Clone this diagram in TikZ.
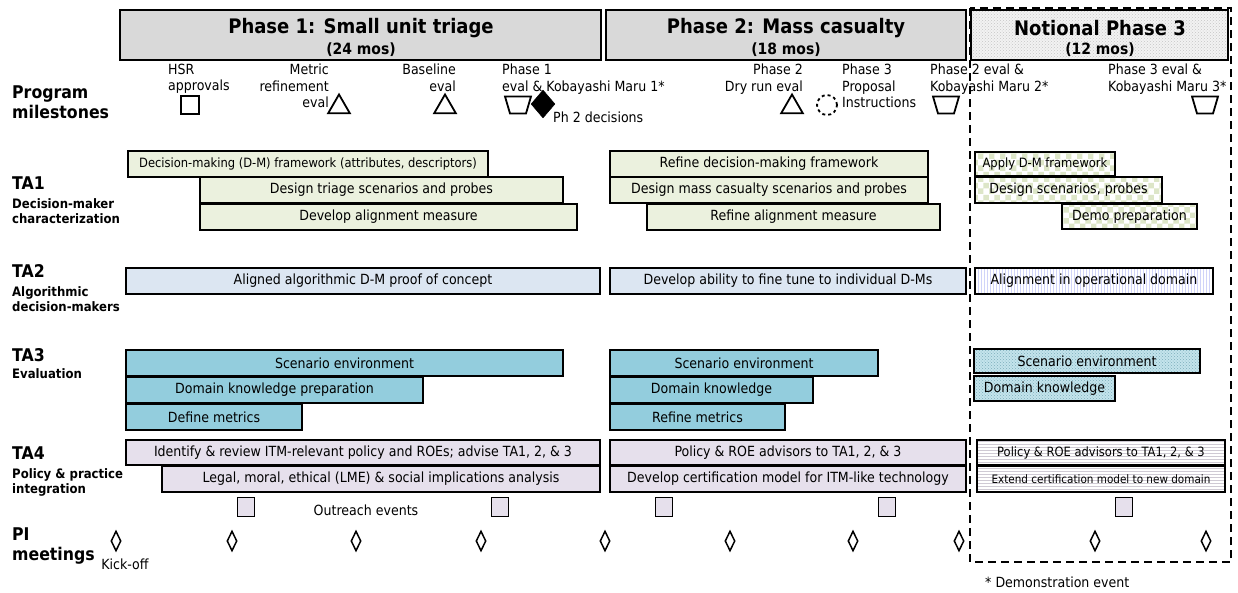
\documentclass[tikz,border=0pt]{standalone}
\usepackage{fontspec}
\setmainfont{DejaVu Sans Condensed}
\usetikzlibrary{shapes.geometric,patterns}

\definecolor{hdrgray}{HTML}{D9D9D9}
\definecolor{taone}{HTML}{EBF1DE}
\definecolor{checkgreen}{HTML}{DDE6C8}
\definecolor{tatwo}{HTML}{DCE6F2}
\definecolor{tathree}{HTML}{93CDDD}
\definecolor{tafour}{HTML}{E6E0EC}

\newcommand{\fsbox}{\fontsize{14}{16}\selectfont}
\newcommand{\fsnarrow}{\fontsize{12.8}{15}\selectfont}
\newcommand{\fsms}{\fontsize{14}{16.3}\selectfont}
\newcommand{\fstiny}{\fontsize{11.6}{14}\selectfont}
\newcommand{\fstitle}{\fontsize{20}{22}\selectfont\bfseries}
\newcommand{\fsmos}{\fontsize{15.5}{17}\selectfont\bfseries}
\newcommand{\fsta}{\fontsize{17.5}{20}\selectfont\bfseries}
\newcommand{\fssub}{\fontsize{13}{15.5}\selectfont\bfseries}

% task bar: name, x1, y1, x2, y2, style, text
\newcommand{\taskbar}[7]{%
  \node[#6, minimum width={(#4-#2)*1pt}, minimum height={(#5-#3)*1pt}]
    (#1) at ({(#2+#4)/2},{(#3+#5)/2}) {#7};}

% evaluation milestone (wide-top trapezoid) centred on a named coordinate
\newcommand{\evaltrap}[2]{%
  \coordinate (#1) at #2;
  \draw[line width=1.8pt, line join=miter, shift={(#1)}]
    (-13,-8.5) -- (13,-8.5) -- (8,8.5) -- (-8,8.5) -- cycle;}

\begin{document}
\begin{tikzpicture}[x=1pt,y=-1pt,
  bar/.style={draw=black, line width=2pt, inner sep=0pt, outer sep=0pt, font=\fsbox},
  hdr/.style={bar, fill=hdrgray, align=center},
  ta1/.style={bar, fill=taone},
  ta1p/.style={bar, preaction={fill=white}, pattern=checkerboard, pattern color=checkgreen},
  ta2/.style={bar, fill=tatwo},
  ta2p/.style={bar, preaction={fill=white}, pattern=vertical lines, pattern color=tatwo!80!blue!60},
  ta3/.style={bar, fill=tathree},
  ta3p/.style={bar, preaction={fill=tathree!55}, pattern=crosshatch dots, pattern color=tathree!85!black},
  ta4/.style={bar, fill=tafour},
  ta4p/.style={bar, preaction={fill=white}, pattern=horizontal lines, pattern color=tafour!90!black},
  mstxt/.style={inner sep=0pt, font=\fsms},
  lbl/.style={inner sep=0pt, anchor=north west, align=left},
  square/.style={draw, line width=1.8pt, minimum size=18pt, inner sep=0pt},
  tri/.style={draw, line width=1.8pt, regular polygon, regular polygon sides=3, minimum size=25pt, inner sep=0pt},
  decide/.style={draw, fill=black, diamond, minimum width=24pt, minimum height=28pt, inner sep=0pt},
  proposal/.style={draw, dashed, line width=1.8pt, circle, minimum size=20pt, inner sep=0pt},
  outreach/.style={draw, line width=1.8pt, fill=tafour, minimum width=17pt, minimum height=19pt, inner sep=0pt},
  pimeet/.style={draw, line width=1.5pt, diamond, minimum width=10pt, minimum height=20pt, inner sep=0pt},
]
\useasboundingbox (0,0) rectangle (1238,592);

% ---- Phase 3 dashed frame
\draw[line width=2pt, dash pattern=on 8pt off 5pt] (970,8) rectangle (1231,562);

% ---- Phase headers
\taskbar{ph1}{120}{10}{601}{60}{hdr}{}
\taskbar{ph2}{606}{10}{966}{60}{hdr}{}
\taskbar{ph3}{971}{10}{1228}{60}{bar, preaction={fill=gray!10}, pattern=crosshatch dots, pattern color=gray!45}{}
\node[inner sep=0pt, font=\fstitle] (ph1t) at (361,28) {Phase 1: Small unit triage};
\node[inner sep=0pt, font=\fsmos] (ph1m) at (361,50) {(24 mos)};
\node[inner sep=0pt, font=\fstitle] (ph2t) at (786,28) {Phase 2: Mass casualty};
\node[inner sep=0pt, font=\fsmos] (ph2m) at (786,50) {(18 mos)};
\node[inner sep=0pt, font=\fstitle] (ph3t) at (1100,28) {Notional Phase 3};
\node[inner sep=0pt, font=\fsmos] (ph3m) at (1100,50) {(12 mos)};

% ---- Row labels
\node[lbl, font=\fsta] (pm) at (12,86) {Program\\milestones};
\node[lbl, font=\fsta] (t1) at (12,177) {TA1};
\node[lbl, font=\fssub] (t1s) at (12,198) {Decision-maker\\characterization};
\node[lbl, font=\fsta] (t2) at (12,264) {TA2};
\node[lbl, font=\fssub] (t2s) at (12,286) {Algorithmic\\decision-makers};
\node[lbl, font=\fsta] (t3) at (12,348) {TA3};
\node[lbl, font=\fssub] (t3s) at (12,368) {Evaluation};
\node[lbl, font=\fsta] (t4) at (12,447) {TA4};
\node[lbl, font=\fssub] (t4s) at (12,468) {Policy \& practice\\integration};
\node[lbl, font=\fsta] (pi) at (12,528) {PI\\meetings};

% ---- Program milestones
\node[mstxt, anchor=north west, align=left] (hsrt) at (168,64) {HSR\\approvals};
\node[square] (hsr) at (190,105) {};
\node[mstxt, anchor=north east, align=right] (mrt) at (329,64) {Metric\\refinement\\eval};
\node[tri] (mr) at (339,107) {};
\node[mstxt, anchor=north east, align=right] (blt) at (456,64) {Baseline\\eval};
\node[tri] (bl) at (445,107) {};
\node[mstxt, anchor=north west, align=left] (p1t) at (502,64) {Phase 1\\eval \& Kobayashi Maru 1*};
\evaltrap{p1}{(518,105)}
\node[decide] (dec) at (543,104) {};
\node[mstxt, anchor=north west] (dect) at (553,112) {Ph 2 decisions};
\node[mstxt, anchor=north east, align=right] (drt) at (803,64) {Phase 2\\Dry run eval};
\node[tri] (dr) at (792,107) {};
\node[proposal] (prop) at (827,105) {};
\node[mstxt, anchor=north west, align=left] (propt) at (842,64) {Phase 3\\Proposal\\Instructions};
\node[mstxt, anchor=north west, align=left] (p2t) at (930,64) {Phase 2 eval \&\\Kobayashi Maru 2*};
\evaltrap{p2}{(946,105)}
\node[mstxt, anchor=north west, align=left] (p3t) at (1108,64) {Phase 3 eval \&\\Kobayashi Maru 3*};
\evaltrap{p3}{(1205,105)}

% ---- TA1
\taskbar{a1}{128}{151}{488}{177}{ta1, font=\fsnarrow}{Decision-making (D-M) framework (attributes, descriptors)}
\taskbar{a2}{200}{177}{563}{203}{ta1}{Design triage scenarios and probes}
\taskbar{a3}{200}{204}{577}{230}{ta1}{Develop alignment measure}
\taskbar{b1}{610}{151}{928}{177}{ta1}{Refine decision-making framework}
\taskbar{b2}{610}{177}{928}{203}{ta1}{Design mass casualty scenarios and probes}
\taskbar{b3}{647}{204}{940}{230}{ta1}{Refine alignment measure}
\taskbar{c1}{975}{152}{1115}{176}{ta1p, font=\fsnarrow}{Apply D-M framework}
\taskbar{c2}{975}{177}{1162}{203}{ta1p}{Design scenarios, probes}
\taskbar{c3}{1062}{204}{1197}{229}{ta1p}{Demo preparation}

% ---- TA2
\taskbar{a4}{126}{268}{600}{294}{ta2}{Aligned algorithmic D-M proof of concept}
\taskbar{b4}{610}{268}{966}{294}{ta2}{Develop ability to fine tune to individual D-Ms}
\taskbar{c4}{975}{268}{1213}{294}{ta2p}{Alignment in operational domain}

% ---- TA3
\taskbar{a5}{126}{350}{563}{376}{ta3}{Scenario environment}
\taskbar{a6}{126}{377}{423}{403}{ta3}{Domain knowledge preparation}
\taskbar{a7}{126}{404}{302}{430}{ta3}{Define metrics}
\taskbar{b5}{610}{350}{878}{376}{ta3}{Scenario environment}
\taskbar{b6}{610}{377}{813}{403}{ta3}{Domain knowledge}
\taskbar{b7}{610}{404}{785}{430}{ta3}{Refine metrics}
\taskbar{c5}{974}{349}{1200}{373}{ta3p}{Scenario environment}
\taskbar{c6}{974}{376}{1115}{401}{ta3p}{Domain knowledge}

% ---- TA4
\taskbar{a8}{126}{440}{600}{465}{ta4}{Identify \& review ITM-relevant policy and ROEs; advise TA1, 2, \& 3}
\taskbar{a9}{162}{466}{600}{492}{ta4}{Legal, moral, ethical (LME) \& social implications analysis}
\taskbar{b8}{610}{440}{966}{465}{ta4}{Policy \& ROE advisors to TA1, 2, \& 3}
\taskbar{b9}{610}{466}{966}{492}{ta4}{Develop certification model for ITM-like technology}
\taskbar{c8}{977}{440}{1225}{465}{ta4p, font=\fsnarrow}{Policy \& ROE advisors to TA1, 2, \& 3}
\taskbar{c9}{977}{466}{1225}{492}{ta4p, font=\fstiny}{Extend certification model to new domain}

% ---- Outreach events
\foreach \x [count=\i] in {246,500,664,887,1124}
  \node[outreach] (out\i) at (\x,507) {};
\node[mstxt] (outt) at (366,510) {Outreach events};

% ---- PI meetings
\foreach \x [count=\i] in {116,232,356,481,605,730,853,959,1095,1206}
  \node[pimeet] (pim\i) at (\x,541) {};
\node[mstxt] (kick) at (125,564) {Kick-off};

\node[mstxt, anchor=west] (demo) at (985,582) {* Demonstration event};
\end{tikzpicture}
\end{document}
